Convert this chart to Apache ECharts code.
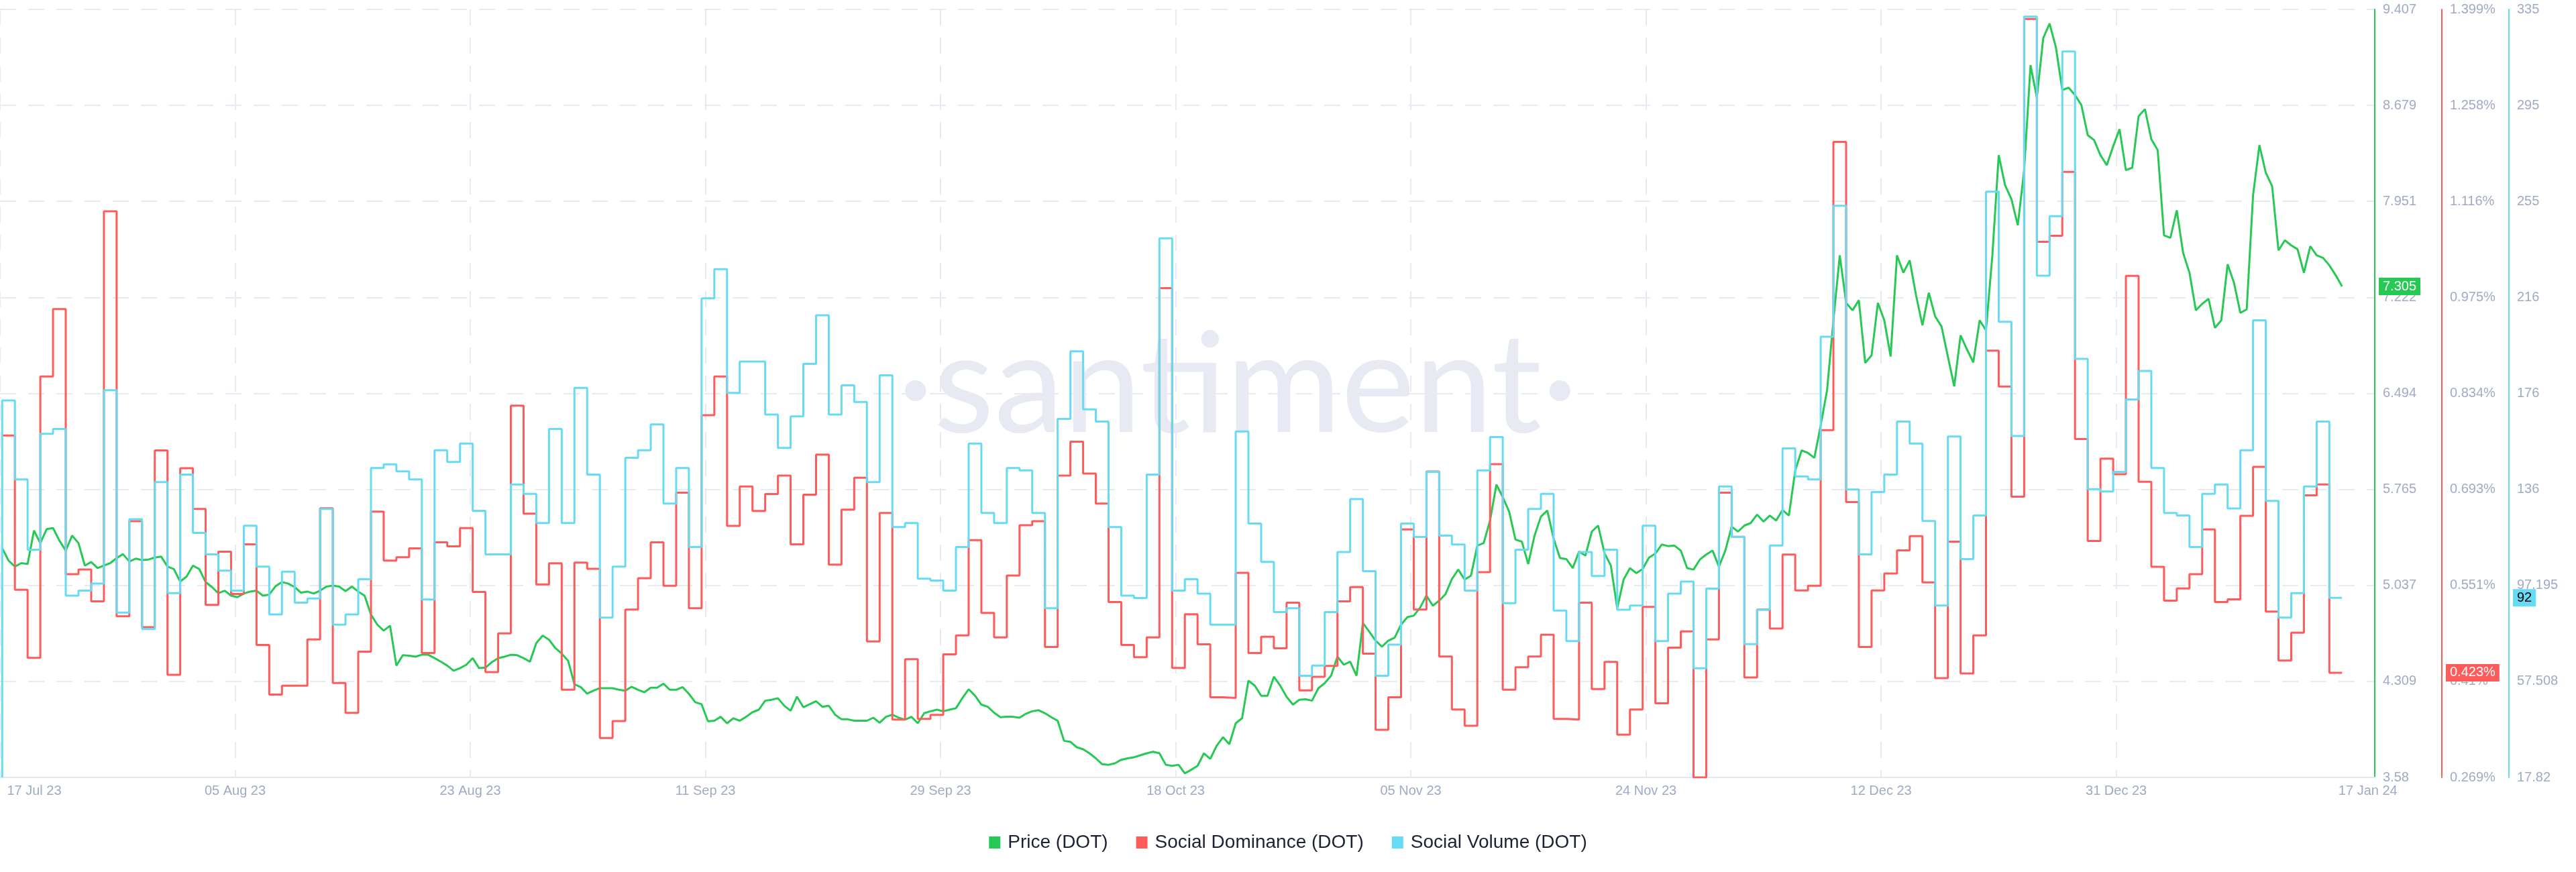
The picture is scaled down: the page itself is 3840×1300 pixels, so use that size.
<!DOCTYPE html>
<html><head><meta charset="utf-8">
<script src="https://cdn.jsdelivr.net/npm/echarts@6/dist/echarts.min.js"></script>
<style>html,body{margin:0;padding:0;background:#fff}#c{width:3840px;height:1300px}</style>
</head><body><div id="c"></div>
<script>
// ---------------- data ----------------
const seriesNames = ['Price (DOT)', 'Social Dominance (DOT)', 'Social Volume (DOT)'];
const xTickLabels = ['17 Jul 23','05 Aug 23','23 Aug 23','11 Sep 23','29 Sep 23','18 Oct 23','05 Nov 23','24 Nov 23','12 Dec 23','31 Dec 23','17 Jan 24'];
const priceTickLabels = ['3.58','4.309','5.037','5.765','6.494','7.222','7.951','8.679','9.407'];
const dominanceTickLabels = ['0.269%','0.41%','0.551%','0.693%','0.834%','0.975%','1.116%','1.258%','1.399%'];
const volumeTickLabels = ['17.82','57.508','97.195','136','176','216','255','295','335'];
const priceRange = [3.58, 9.407];
const dominanceRange = [0.269, 1.399];
const volumeRange = [17.82, 335];

// Price (DOT), USD, every 12 hours from 17 Jul 2023 00:00 to 17 Jan 2024 00:00
const price = [
5.320,5.225,5.180,5.206,5.199,5.453,5.358,5.464,5.472,5.377,
5.301,5.415,5.358,5.187,5.214,5.168,5.187,5.206,5.244,5.274,
5.218,5.240,5.229,5.233,5.248,5.256,5.180,5.161,5.066,5.104,
5.187,5.161,5.062,5.024,4.978,4.997,4.959,4.948,4.975,4.990,
4.997,4.959,4.967,5.031,5.062,5.050,5.024,4.982,4.990,4.975,
4.997,5.028,5.035,5.028,4.994,5.028,4.990,4.959,4.815,4.739,
4.694,4.731,4.428,4.507,4.504,4.496,4.511,4.511,4.485,4.458,
4.428,4.390,4.409,4.435,4.485,4.409,4.413,4.454,4.485,4.496,
4.511,4.507,4.485,4.458,4.599,4.656,4.625,4.561,4.519,4.466,
4.287,4.265,4.215,4.238,4.257,4.257,4.257,4.245,4.238,4.268,
4.245,4.226,4.261,4.261,4.291,4.245,4.245,4.265,4.215,4.151,
4.135,4.006,4.010,4.040,3.991,4.029,4.010,4.040,4.075,4.094,
4.162,4.169,4.181,4.124,4.086,4.192,4.113,4.135,4.158,4.116,
4.124,4.056,4.021,4.021,4.010,4.010,4.010,4.033,3.995,4.040,
4.056,4.033,4.018,4.040,3.991,4.067,4.082,4.094,4.082,4.094,
4.105,4.181,4.249,4.200,4.132,4.116,4.071,4.037,4.040,4.040,
4.033,4.063,4.082,4.090,4.067,4.037,4.010,3.858,3.850,3.809,
3.794,3.763,3.725,3.680,3.676,3.687,3.714,3.725,3.733,3.748,
3.763,3.775,3.763,3.676,3.668,3.676,3.611,3.638,3.668,3.763,
3.721,3.820,3.885,3.832,3.991,4.029,4.314,4.276,4.200,4.200,
4.344,4.276,4.192,4.132,4.169,4.173,4.162,4.257,4.295,4.352,
4.496,4.435,4.458,4.352,4.751,4.686,4.618,4.572,4.618,4.640,
4.739,4.796,4.807,4.868,4.959,4.883,4.921,4.971,5.085,5.157,
5.081,5.111,5.339,5.358,5.529,5.802,5.707,5.597,5.385,5.369,
5.199,5.415,5.559,5.605,5.392,5.244,5.237,5.168,5.293,5.263,
5.445,5.491,5.282,5.187,4.864,5.081,5.168,5.130,5.161,5.248,
5.278,5.347,5.335,5.339,5.301,5.168,5.157,5.233,5.271,5.301,
5.180,5.301,5.483,5.445,5.491,5.510,5.574,5.521,5.567,5.529,
5.609,5.567,5.909,6.061,6.042,6.004,6.250,6.516,7.048,7.541,
7.181,7.124,7.200,6.725,6.782,7.181,7.048,6.774,7.541,7.409,
7.503,7.238,7.010,7.257,7.078,7.002,6.774,6.547,6.934,6.828,
6.729,7.048,6.972,7.541,8.301,8.073,7.967,7.769,8.187,8.984,
8.738,9.189,9.300,9.117,8.795,8.813,8.757,8.681,8.453,8.415,
8.301,8.225,8.369,8.498,8.187,8.206,8.597,8.650,8.422,8.339,
7.693,7.674,7.883,7.560,7.409,7.124,7.173,7.211,6.991,7.048,
7.473,7.333,7.105,7.131,7.997,8.377,8.168,8.065,7.579,7.655,
7.617,7.587,7.409,7.610,7.541,7.522,7.465,7.390,7.305
];

// Social Dominance (DOT), %, daily 17 Jul 2023 .. 17 Jan 2024
const socialDominance = [
0.772,0.772,0.545,0.445,0.859,0.958,0.568,0.575,0.528,1.102,
0.506,0.646,0.490,0.750,0.420,0.724,0.664,0.523,0.601,0.539,
0.612,0.464,0.391,0.404,0.404,0.472,0.665,0.408,0.364,0.454,
0.660,0.588,0.593,0.606,0.452,0.615,0.609,0.636,0.542,0.424,
0.481,0.816,0.657,0.553,0.584,0.398,0.585,0.576,0.327,0.352,
0.516,0.562,0.615,0.551,0.688,0.518,0.802,0.859,0.639,0.697,
0.661,0.686,0.713,0.612,0.685,0.744,0.582,0.663,0.710,0.469,
0.658,0.354,0.443,0.355,0.361,0.450,0.478,0.618,0.511,0.475,
0.566,0.640,0.646,0.461,0.713,0.763,0.716,0.672,0.527,0.464,
0.446,0.475,0.989,0.430,0.509,0.465,0.387,0.386,0.570,0.452,
0.476,0.459,0.526,0.397,0.417,0.433,0.528,0.549,0.451,0.339,
0.387,0.634,0.516,0.719,0.447,0.369,0.345,0.571,0.730,0.398,
0.431,0.447,0.479,0.355,0.354,0.526,0.399,0.439,0.332,0.369,
0.520,0.378,0.460,0.484,0.269,0.472,0.688,0.623,0.416,0.516,
0.488,0.597,0.544,0.551,0.780,1.204,0.674,0.461,0.544,0.569,
0.603,0.624,0.556,0.415,0.616,0.422,0.478,0.897,0.844,0.682,
1.385,1.057,1.066,1.160,0.767,0.617,0.738,0.715,1.007,0.704,
0.579,0.529,0.547,0.568,0.634,0.527,0.531,0.654,0.726,0.513,
0.441,0.482,0.684,0.700,0.423
];

// Social Volume (DOT), daily 17 Jul 2023 .. 17 Jan 2024
const socialVolume = [
17.82,173.5,140.9,111.9,159.7,161.7,92.9,95.0,97.9,177.7,
85.9,124.5,79.1,139.8,93.9,142.9,118.8,109.9,103.2,95.0,
121.8,104.9,85.1,102.8,90.0,91.7,128.7,80.9,85.1,99.7,
145.6,147.1,144.2,140.9,91.3,152.9,148.1,155.7,127.9,109.9,
109.9,138.8,134.9,122.9,161.7,122.9,178.7,142.9,83.8,104.9,
149.8,152.9,163.6,130.9,145.6,113.0,215.7,227.7,176.6,189.6,
189.6,167.7,153.9,166.9,188.6,208.7,167.7,179.7,172.9,139.8,
183.9,121.2,122.9,99.9,99.1,95.0,113.0,155.7,127.0,122.9,
145.6,144.6,127.0,87.7,165.9,193.8,169.8,164.8,121.2,92.9,
91.9,142.9,240.5,95.0,99.7,93.7,80.9,80.9,160.7,122.7,
106.8,86.1,87.7,59.8,64.0,86.1,110.9,132.8,103.0,59.8,
72.7,122.7,117.1,144.0,117.7,114.0,95.0,144.6,158.4,89.8,
111.9,128.7,134.9,86.7,74.1,110.9,101.0,111.9,87.1,88.8,
121.8,74.1,93.7,98.7,62.9,95.8,138.0,117.1,72.9,87.1,
113.6,153.7,142.1,140.9,199.8,253.9,136.7,109.9,135.7,142.9,
164.8,155.7,123.7,88.8,158.6,108.0,126.0,259.7,206.0,158.8,
332.0,225.0,249.6,317.6,190.7,136.9,135.9,144.0,173.9,185.7,
145.6,127.0,126.0,113.0,134.9,138.8,128.9,152.9,206.6,132.0,
83.8,93.9,138.0,164.8,92
];

const lastPrice = 7.305, lastDominance = 0.423, lastVolume = 92;

// ---------------- layout / config ----------------
const DAY = 86400000;
const t0 = Date.UTC(2023, 6, 17);
const xMin = t0 - 0.171 * DAY;
const xMax = xMin + 186.74 * DAY;
const tickStepDays = 18.49;
const tickTimes = [];
for (let k = 0; k < 10; k++) tickTimes.push(xMin + k * tickStepDays * DAY);
const labelTimes = tickTimes.slice();
labelTimes[0] = xMin + 2.69 * DAY;
labelTimes.push(xMin + 186.2 * DAY);

const C_GREEN = '#26c953', C_RED = '#ff5b5b', C_CYAN = '#68dbf4';
const LABEL_C = '#9faac4';
const GRID_C = '#e7e9f3';
const FONT = '"Liberation Sans", Arial, sans-serif';

function ticks(range) {
  const out = [];
  for (let i = 0; i <= 8; i++) out.push(range[0] + i * (range[1] - range[0]) / 8);
  return out;
}
function yAxis(range, labels, color, offset, split, last, lastText, lastBg, lastFg) {
  const tv = ticks(range);
  return {
    type: 'value', position: 'right', offset: offset,
    min: range[0], max: range[1],
    axisLine: { show: true, lineStyle: { color: color, width: 2 } },
    axisTick: { show: false, customValues: tv },
    axisLabel: {
      customValues: tv, margin: 12, color: LABEL_C, fontSize: 20, fontFamily: FONT,
      formatter: function (v) {
        const i = Math.round((v - range[0]) / ((range[1] - range[0]) / 8));
        return labels[i] !== undefined ? labels[i] : '';
      }
    },
    splitLine: split ? { show: true, lineStyle: { color: GRID_C, width: 2, type: [24, 18] } } : { show: false },
    axisPointer: {
      show: true, status: 'show', value: last, type: 'line', triggerTooltip: false,
      lineStyle: { opacity: 0, width: 0 },
      label: {
        show: true, formatter: function () { return lastText; },
        backgroundColor: lastBg, color: lastFg, fontSize: 20, fontFamily: FONT,
        padding: [3, 6, 3, 6], margin: 6, borderRadius: 0
      }
    }
  };
}

const chart = echarts.init(document.getElementById('c'), null, { renderer: 'canvas' });
chart.setOption({
  animation: false,
  backgroundColor: '#ffffff',
  grid: { left: 0, right: 300, top: 14, bottom: 141, containLabel: false, outerBoundsMode: 'none' },
  graphic: [{
    type: 'text', x: 1845, y: 577, z: 0, silent: true,
    style: { text: '·santiment·', fill: '#e7e9f3', fontSize: 208, fontFamily: 'Lato, "Open Sans", sans-serif', align: 'center', verticalAlign: 'middle' }
  }],
  legend: {
    data: seriesNames, top: 1237, left: 'center', icon: 'rect', itemWidth: 17, itemHeight: 18, itemGap: 42,
    textStyle: { fontSize: 28, color: '#1d2232', fontFamily: FONT, padding: [0, 0, 0, 6] }
  },
  xAxis: {
    type: 'value', min: xMin, max: xMax,
    axisLine: { show: true, onZero: false, lineStyle: { color: '#e4e8f1', width: 2 } },
    axisTick: { show: false, customValues: tickTimes },
    axisLabel: {
      customValues: labelTimes, color: LABEL_C, fontSize: 20, fontFamily: FONT, margin: 10,
      formatter: function (v) {
        let best = 0, bd = Infinity;
        labelTimes.forEach(function (t, i) { const d = Math.abs(t - v); if (d < bd) { bd = d; best = i; } });
        return xTickLabels[best];
      }
    },
    splitLine: { show: true, lineStyle: { color: GRID_C, width: 2, type: [24, 18] } }
  },
  yAxis: [
    yAxis(priceRange, priceTickLabels, C_GREEN, 0, true, lastPrice, '7.305', C_GREEN, '#ffffff'),
    yAxis(dominanceRange, dominanceTickLabels, C_RED, 100, false, lastDominance, '0.423%', C_RED, '#ffffff'),
    yAxis(volumeRange, volumeTickLabels, C_CYAN, 200, false, lastVolume, '92', C_CYAN, '#000000')
  ],
  series: [
    {
      name: seriesNames[0], type: 'line', yAxisIndex: 0, showSymbol: false, symbol: 'none',
      color: C_GREEN, lineStyle: { width: 3, color: C_GREEN },
      data: price.map(function (v, k) { return [t0 + k * DAY / 2, v]; })
    },
    {
      name: seriesNames[1], type: 'line', yAxisIndex: 1, showSymbol: false, symbol: 'none', step: 'start',
      color: C_RED, lineStyle: { width: 3, color: C_RED },
      data: socialDominance.map(function (v, j) { return [t0 + j * DAY, v]; })
    },
    {
      name: seriesNames[2], type: 'line', yAxisIndex: 2, showSymbol: false, symbol: 'none', step: 'start',
      color: C_CYAN, lineStyle: { width: 3, color: C_CYAN },
      data: socialVolume.map(function (v, j) { return [t0 + j * DAY, v]; })
    }
  ]
});
</script>
</body></html>
